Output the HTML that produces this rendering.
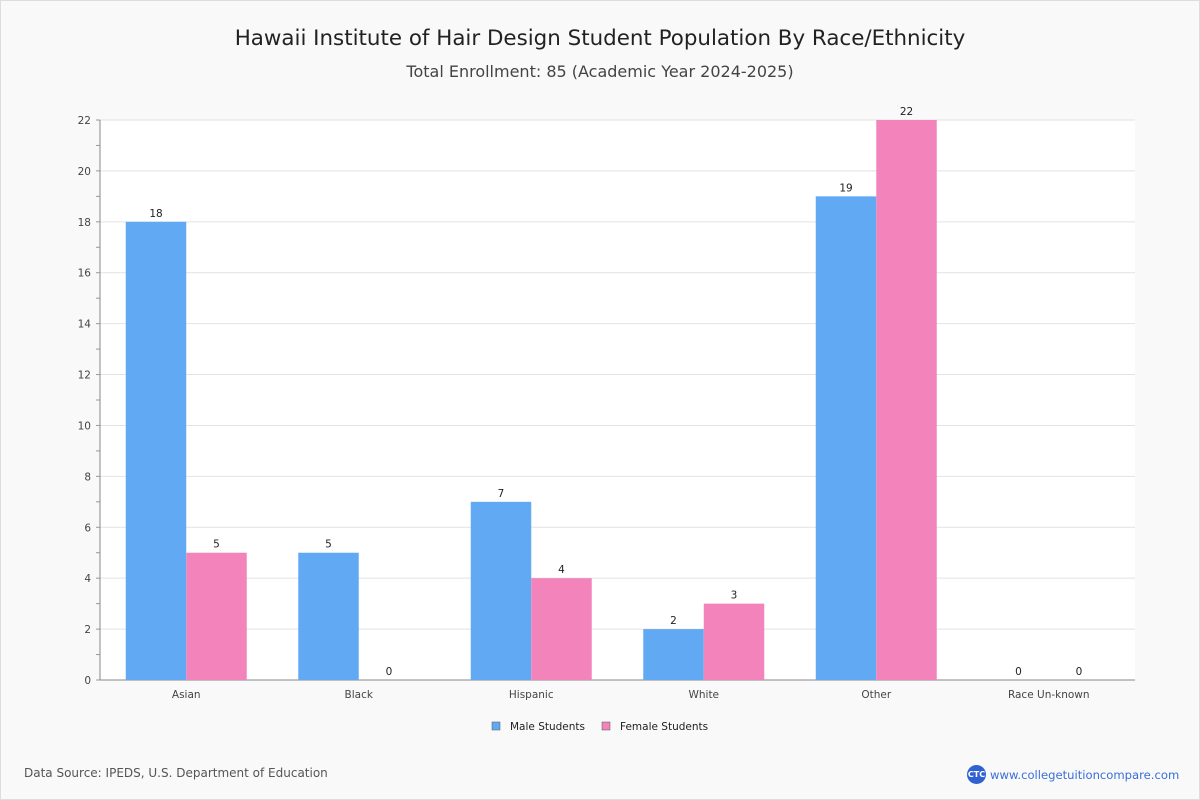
<!DOCTYPE html>
<html><head><meta charset="utf-8"><style>
body{margin:0;background:#fff;font-family:"DejaVu Sans","Liberation Sans",sans-serif;}
#wrap{position:relative;width:1198px;height:798px;border:1px solid #ddd;background:#f9f9f9;overflow:hidden;}
.t{position:absolute;left:0;width:1198px;text-align:center;color:#222;}
</style></head><body>
<div id="wrap">
<div class="t" style="top:25px;font-size:21.4px;">Hawaii Institute of Hair Design Student Population By Race/Ethnicity</div>
<div class="t" style="top:61px;font-size:16px;color:#444;">Total Enrollment: 85 (Academic Year 2024-2025)</div>
<svg id="chart" width="1200" height="800" style="position:absolute;left:-1px;top:-1px"></svg>
<div style="position:absolute;left:23px;top:765px;font-size:12px;color:#555;">Data Source: IPEDS, U.S. Department of Education</div>
<div style="position:absolute;left:966px;top:764px;display:flex;align-items:center;font-size:11.6px;color:#3a6fd8;">
<span style="display:inline-block;width:19px;height:19px;border-radius:50%;background:#2f62d0;color:#fff;font-size:8px;line-height:19px;text-align:center;font-weight:bold;margin-right:4px;">CTC</span>www.collegetuitioncompare.com</div>
</div>
<script>
const categories=["Asian","Black","Hispanic","White","Other","Race Un-known"];
const maleValues=[18,5,7,2,19,0];
const femaleValues=[5,0,4,3,22,0];
const yTicks=[0,2,4,6,8,10,12,14,16,18,20,22];
const NS="http://www.w3.org/2000/svg";
const svg=document.getElementById('chart');
const L=100,R=1135,T=120,B=680,yMax=22;
const y=v=>B-(v/yMax)*(B-T);
const band=(R-L)/categories.length;
const x=i=>L+band*(i+0.5);
function mk(tag,attrs,txt){const e=document.createElementNS(NS,tag);for(const k in attrs)e.setAttribute(k,attrs[k]);if(txt!==undefined)e.textContent=txt;svg.appendChild(e);return e;}
let bg=mk('rect',{x:L,y:T,width:R-L,height:B-T,fill:'#fff'});


for(let v=0;v<=yMax;v++){
  mk('line',{x1:L-4,x2:L,y1:y(v),y2:y(v),stroke:'#999'});
}
yTicks.forEach(v=>{
  if(v>0){let g=mk('line',{x1:L,x2:R,y1:y(v),y2:y(v),stroke:'#e2e2e2'});
  
  }
  let t=mk('text',{x:L-9,y:y(v)+4,'text-anchor':'end','font-size':10.5,fill:'#444'},v);
  
  
});
mk('line',{x1:L,x2:L,y1:T,y2:B,stroke:'#888'});
mk('line',{x1:L,x2:R,y1:B,y2:B,stroke:'#888'});
const bw=60.5;
categories.forEach((c,i)=>{
  const cx=x(i);
  [[maleValues[i],'#62a9f4',cx-bw,'male'],[femaleValues[i],'#f283bb',cx,'female']].forEach(([v,col,bx,s])=>{
    let r=mk('rect',{x:bx,y:y(v),width:bw,height:B-y(v),fill:col});
    
    
    let t=mk('text',{x:bx+bw/2,y:y(v)-5,'text-anchor':'middle','font-size':10.5,fill:'#222'},v);
    
    
  });
  let t=mk('text',{x:cx,y:B+18,'text-anchor':'middle','font-size':10.5,fill:'#444'},c);
  
  
});
[['Male Students','#62a9f4',492],['Female Students','#f283bb',602]].forEach(([n,col,lx])=>{
  let r=mk('rect',{x:lx,y:722,width:8,height:8,fill:col,stroke:'#555','stroke-width':0.5});
  
  
  let t=mk('text',{x:lx+18,y:730,'font-size':10.5,fill:'#222'},n);
  
  
});
</script>
</body></html>
